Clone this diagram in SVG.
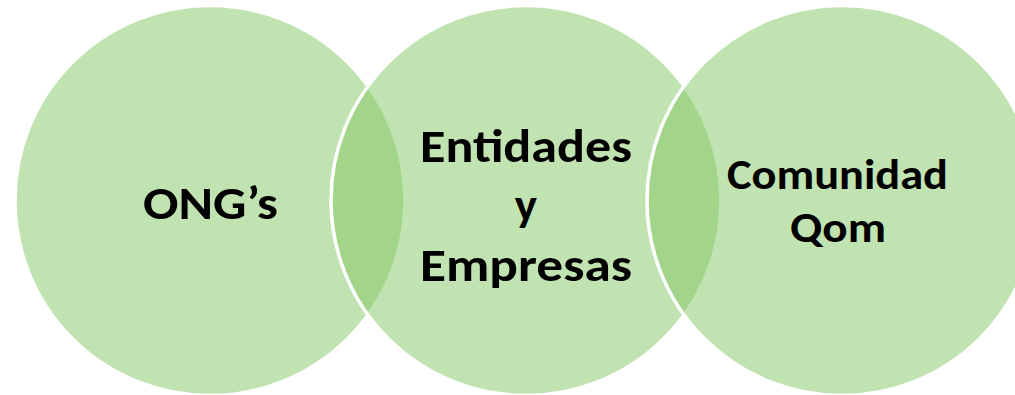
<svg xmlns="http://www.w3.org/2000/svg" width="1015" height="395" viewBox="0 0 1015 395">
  <style>
    .venn { fill: rgb(131,199,99); fill-opacity: 0.5; stroke: #ffffff; stroke-width: 3.5; }
    .lbl { font-family: Carlito, Lato, "Liberation Sans", sans-serif; font-weight: 700; fill: #000000; text-anchor: middle; }
    .big { font-size: 47px; }
    .small { font-size: 42px; }
  </style>
  <rect x="0" y="0" width="1015" height="395" fill="#ffffff"/>
  <g id="node-ongs">
    <circle class="venn" cx="210" cy="200.5" r="195"/>
    <text class="lbl big" x="210.5" y="219" textLength="135" lengthAdjust="spacingAndGlyphs">ONG’s</text>
  </g>
  <g id="node-entidades">
    <circle class="venn" cx="526" cy="200.5" r="195"/>
    <text class="lbl big" x="526" y="162" textLength="212" lengthAdjust="spacingAndGlyphs">Entidades</text>
    <text class="lbl big" x="526" y="221">y</text>
    <text class="lbl big" x="526" y="281" textLength="212" lengthAdjust="spacingAndGlyphs">Empresas</text>
  </g>
  <g id="node-comunidad">
    <circle class="venn" cx="842" cy="200.5" r="195"/>
    <text class="lbl small" x="837.5" y="189" textLength="221" lengthAdjust="spacingAndGlyphs">Comunidad</text>
    <text class="lbl small" x="838" y="242" textLength="96" lengthAdjust="spacingAndGlyphs">Qom</text>
  </g>
  <g id="connectors"></g>
</svg>
